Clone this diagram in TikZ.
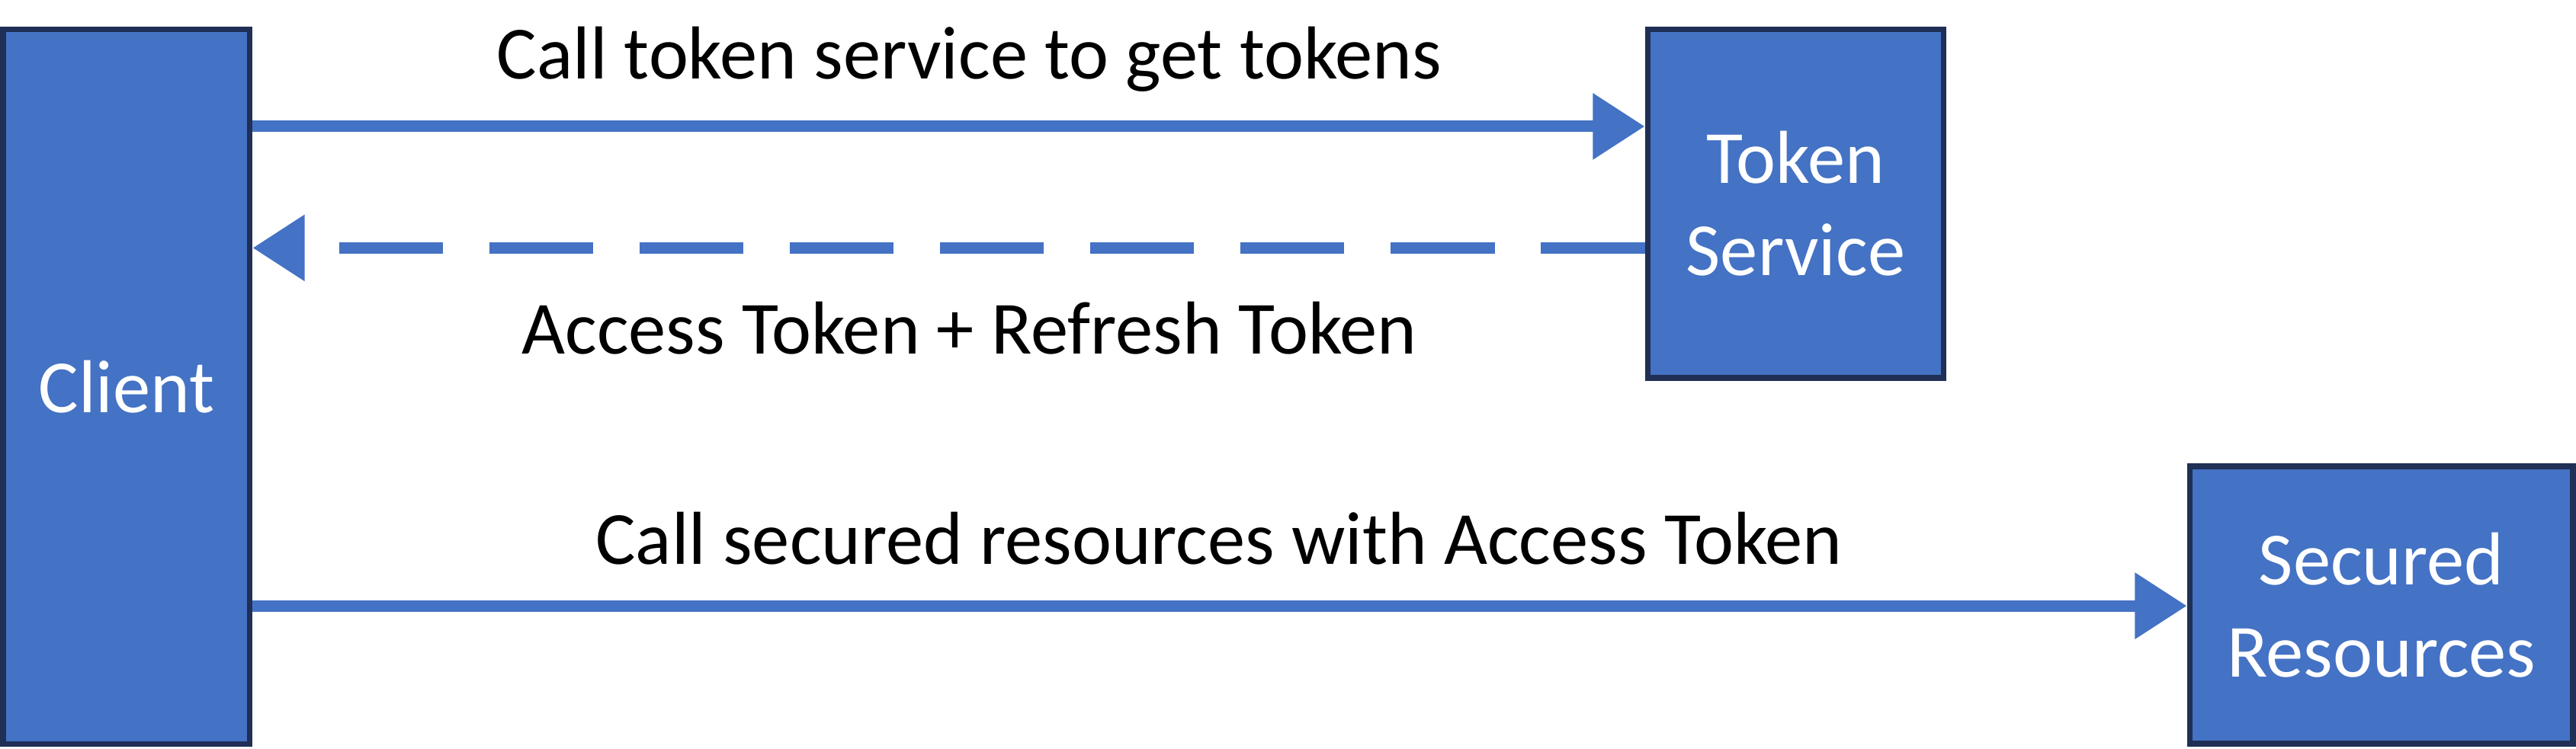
\documentclass[tikz,border=0pt]{standalone}
\usepackage{fontspec}
\setmainfont{Carlito}
\usetikzlibrary{arrows.meta}
\usetikzlibrary{positioning}
\definecolor{mblue}{HTML}{4472C4}
\definecolor{dblue}{HTML}{1F2F55}
\tikzset{box/.style = {draw = dblue, line width = 1pt, fill = mblue, text = white,
    align = center, font = \fontsize{13}{16}\selectfont, inner sep = 0},
  flow/.style = {mblue, line width = 2pt, -{Triangle[length = 9pt, width = 11pt]}},
  lbl/.style = {font = \fontsize{13}{16}\selectfont}}

\begin{document}
\begin{tikzpicture}[x = 0.01cm, y = 0.01cm]
      \useasboundingbox (0, 0) rectangle (1568, 456);

      \node [box, minimum width = 1.5cm, minimum height = 4.35cm] (client) at (77, 220.5) {Client};
      \node [box, minimum width = 1.8cm, minimum height = 2.12cm] (token) at (1093, 332) {Token\\Service};
      \node [box, minimum width = 2.33cm, minimum height = 1.69cm] (res) at (1449.5, 87.5) {Secured\\Resources};

      \draw [flow] (client.east |- 0, 379) -- (token.west |- 0, 379);
      \draw [flow, dash pattern = on 18pt off 8pt] (token.west |- 0, 305) -- (client.east |- 0, 305);
      \draw [flow] (client.east |- 0, 87) -- (res.west |- 0, 87);

      \node [lbl] (call) at (590, 420) {Call token service to get tokens};
      \node [lbl] (reply) at (590, 256) {Access Token + Refresh Token};
      \node [lbl] (access) at (742, 128) {Call secured resources with Access Token};
\end{tikzpicture}
\end{document}
